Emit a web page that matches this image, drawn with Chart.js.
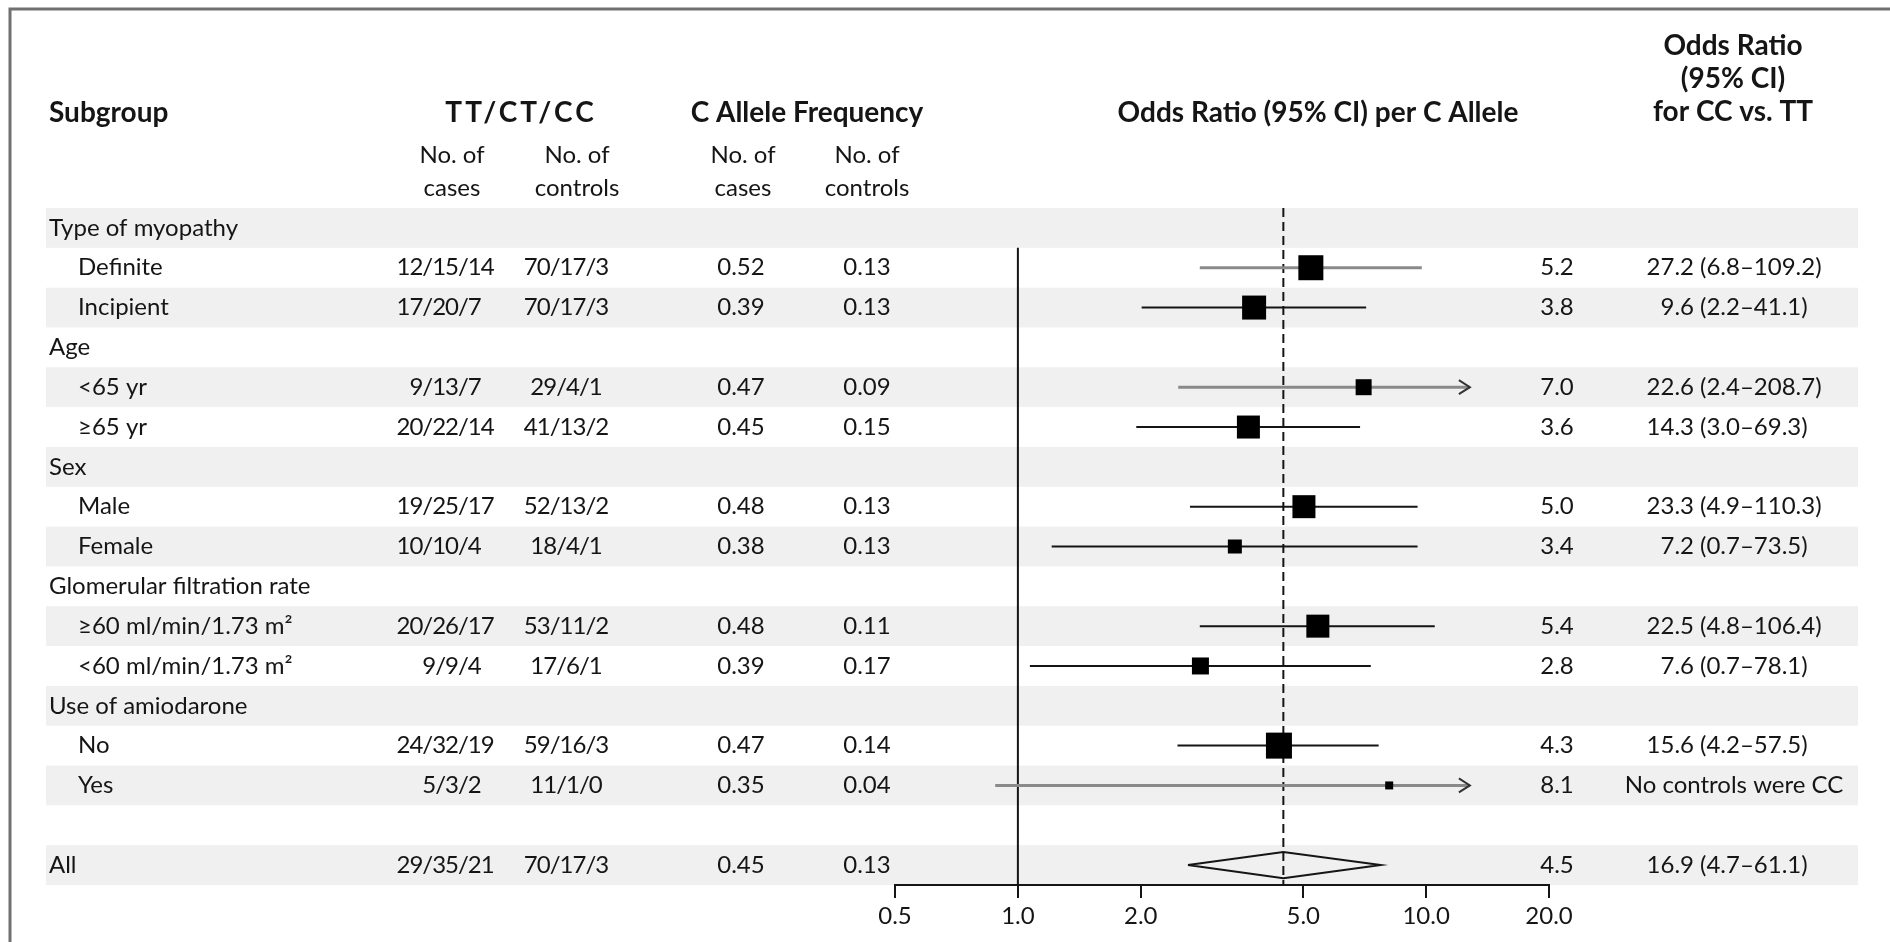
<!DOCTYPE html>
<html>
<head>
<meta charset="utf-8">
<script src="https://cdn.jsdelivr.net/npm/chart.js@4.4.1/dist/chart.umd.min.js"></script>
<style>
  html, body { margin: 0; padding: 0; background: #fff; overflow: hidden; }
</style>
</head>
<body>
<canvas id="forest-chart" width="1890" height="942"></canvas>
<script>
// rows, top to bottom ('' = spacer row)
const subgroups = ['Type of myopathy', 'Definite', 'Incipient', 'Age', '<65 yr', '≥65 yr', 'Sex', 'Male', 'Female',
    'Glomerular filtration rate', '≥60 ml/min/1.73 m²', '<60 ml/min/1.73 m²', 'Use of amiodarone', 'No', 'Yes', '', 'All'];
const isSubitem = [false, true, true, false, true, true, false, true, true, false, true, true, false, true, true, false, false];

const casesTT = ['', '12/15/14', '17/20/7', '', '9/13/7', '20/22/14', '', '19/25/17', '10/10/4', '', '20/26/17', '9/9/4', '', '24/32/19', '5/3/2', '', '29/35/21'];
const controlsTT = ['', '70/17/3', '70/17/3', '', '29/4/1', '41/13/2', '', '52/13/2', '18/4/1', '', '53/11/2', '17/6/1', '', '59/16/3', '11/1/0', '', '70/17/3'];
const freqCases = ['', '0.52', '0.39', '', '0.47', '0.45', '', '0.48', '0.38', '', '0.48', '0.39', '', '0.47', '0.35', '', '0.45'];
const freqControls = ['', '0.13', '0.13', '', '0.09', '0.15', '', '0.13', '0.13', '', '0.11', '0.17', '', '0.14', '0.04', '', '0.13'];
const orText = ['', '5.2', '3.8', '', '7.0', '3.6', '', '5.0', '3.4', '', '5.4', '2.8', '', '4.3', '8.1', '', '4.5'];
const ccText = ['', '27.2 (6.8–109.2)', '9.6 (2.2–41.1)', '', '22.6 (2.4–208.7)', '14.3 (3.0–69.3)', '',
    '23.3 (4.9–110.3)', '7.2 (0.7–73.5)', '', '22.5 (4.8–106.4)', '7.6 (0.7–78.1)', '', '15.6 (4.2–57.5)',
    'No controls were CC', '', '16.9 (4.7–61.1)'];

// odds ratio per C allele, as drawn
const orPoint = [null, 5.22, 3.79, null, 7.03, 3.67, null, 5.02, 3.40, null, 5.43, 2.80, null, 4.36, 8.12, null, 4.47];
const ciLow = [null, 2.79, 2.01, null, 2.47, 1.95, null, 2.64, 1.21, null, 2.79, 1.07, null, 2.46, 0.88, null, 2.61];
const ciHigh = [null, 9.76, 7.13, null, 12.8, 6.89, null, 9.53, 9.53, null, 10.5, 7.32, null, 7.65, 12.8, null, 7.74];
const ciArrow = [false, false, false, false, true, false, false, false, false, false, false, false, false, false, true, false, false];

const xTicks = [0.5, 1, 2, 5, 10, 20];
const allRow = 16;

// marker look (not data)
const boxSide = [0, 25, 24, 0, 16, 23, 0, 23, 14, 0, 23, 17, 0, 26, 8, 0, 0];
const greyLine = [false, true, false, false, true, false, false, false, false, false, false, false, false, false, true, false, false];

const FONT = 'Lato, "Open Sans", sans-serif';
const INK = '#151515';

Chart.defaults.font.family = FONT;

const datasets = [];

// squares
datasets.push({
    data: orPoint.map((v, i) => (v === null || i === allRow) ? null : { x: v, y: i }).filter(p => p),
    pointStyle: 'rect',
    pointRadius: orPoint.map((v, i) => boxSide[i] / Math.SQRT2).filter((r, i) => orPoint[i] !== null && i !== allRow),
    backgroundColor: '#000',
    borderWidth: 0,
    order: 0,
    clip: false
});

// confidence intervals
orPoint.forEach((v, i) => {
    if (v === null || i === allRow) return;
    datasets.push({
        data: [{ x: ciLow[i], y: i }, { x: ciHigh[i], y: i }],
        showLine: true,
        borderColor: greyLine[i] ? '#8a8a8a' : INK,
        borderWidth: greyLine[i] ? 3 : 2,
        pointRadius: 0,
        order: 1,
        clip: false
    });
});

// overall diamond
const dh = 0.33;
datasets.push({
    data: [
        { x: ciLow[allRow], y: allRow },
        { x: orPoint[allRow], y: allRow - dh },
        { x: ciHigh[allRow], y: allRow },
        { x: orPoint[allRow], y: allRow + dh },
        { x: ciLow[allRow], y: allRow }
    ],
    showLine: true,
    borderColor: INK,
    borderWidth: 2,
    pointRadius: 0,
    order: 1,
    clip: false
});

// no-effect line and overall line
datasets.push({
    data: [{ x: 1, y: 0.5 }, { x: 1, y: allRow + 0.5 }],
    showLine: true, borderColor: INK, borderWidth: 2, pointRadius: 0, order: 2, clip: false
});
datasets.push({
    data: [{ x: orPoint[allRow], y: -0.5 }, { x: orPoint[allRow], y: allRow + 0.5 }],
    showLine: true, borderColor: INK, borderWidth: 2, borderDash: [9, 5], pointRadius: 0, order: 2, clip: false
});

function put(ctx, text, x, y, align, bold, spacing) {
    ctx.font = (bold ? 'bold 28px ' : '24px ') + FONT;
    ctx.letterSpacing = spacing || '0px';
    ctx.textAlign = align;
    ctx.fillText(text, x, y);
    ctx.letterSpacing = '0px';
}

// draws head right of anchor, tail from anchor (keeps the slashes lined up)
function putSplit(ctx, text, sep, anchor, y, gap, spacing) {
    const k = text.lastIndexOf(sep);
    if (k < 0) { put(ctx, text, anchor, y, 'center', false, spacing); return; }
    put(ctx, text.slice(0, k), anchor - gap, y, 'right', false, spacing);
    put(ctx, text.slice(k).trim(), anchor, y, 'left', false, spacing);
}

const tablePlugin = {
    id: 'tablePlugin',
    beforeDraw(chart) {
        const { ctx, scales: { y } } = chart;
        ctx.save();
        ctx.fillStyle = '#fff';
        ctx.fillRect(0, 0, chart.width, chart.height);
        ctx.fillStyle = '#f0f0f0';
        subgroups.forEach((s, i) => {
            if (i % 2 !== 0) return;
            const top = y.getPixelForValue(i - 0.5);
            const bottom = y.getPixelForValue(i + 0.5);
            ctx.fillRect(46, top, 1858 - 46, bottom - top);
        });
        ctx.restore();
    },
    afterDatasetsDraw(chart) {
        const { ctx, scales: { x, y } } = chart;
        ctx.save();
        ciArrow.forEach((a, i) => {
            if (!a) return;
            const px = x.getPixelForValue(ciHigh[i]);
            const py = y.getPixelForValue(i);
            ctx.strokeStyle = '#333';
            ctx.lineWidth = 2;
            ctx.beginPath();
            ctx.moveTo(px - 11, py - 7);
            ctx.lineTo(px, py);
            ctx.lineTo(px - 11, py + 7);
            ctx.stroke();
        });
        ctx.restore();
    },
    afterDraw(chart) {
        const { ctx, scales: { y } } = chart;
        ctx.save();
        ctx.fillStyle = INK;
        ctx.textBaseline = 'middle';

        // header
        put(ctx, 'Subgroup', 49, 113, 'left', true);
        put(ctx, 'TT/CT/CC', 521, 113, 'center', true, '3px');
        put(ctx, 'C Allele Frequency', 807, 113, 'center', true);
        put(ctx, 'Odds Ratio (95% CI) per C Allele', 1318, 113, 'center', true);
        put(ctx, 'Odds Ratio', 1733, 46, 'center', true);
        put(ctx, '(95% CI)', 1733, 79, 'center', true);
        put(ctx, 'for CC vs. TT', 1733, 112, 'center', true);
        [452, 577, 743, 867].forEach((cx, k) => {
            put(ctx, 'No. of', cx, 155, 'center');
            put(ctx, k % 2 === 0 ? 'cases' : 'controls', cx, 188, 'center');
        });

        // rows
        subgroups.forEach((s, i) => {
            const py = y.getPixelForValue(i);
            put(ctx, s, isSubitem[i] ? 78 : 49, py, 'left');
            if (casesTT[i]) putSplit(ctx, casesTT[i], '/', 458, py, 0, '-1px');
            if (controlsTT[i]) put(ctx, controlsTT[i], 566, py, 'center', false, '-1px');
            if (freqCases[i]) put(ctx, freqCases[i], 741, py, 'center');
            if (freqControls[i]) put(ctx, freqControls[i], 867, py, 'center');
            if (orText[i]) put(ctx, orText[i], 1557, py, 'center');
            if (ccText[i]) {
                if (ccText[i].indexOf('(') > 0) putSplit(ctx, ccText[i], ' (', 1700, py, 6);
                else put(ctx, ccText[i], 1734, py, 'center');
            }
        });

        // frame
        ctx.strokeStyle = '#707070';
        ctx.lineWidth = 3;
        ctx.beginPath();
        ctx.moveTo(10, chart.height);
        ctx.lineTo(10, 9);
        ctx.lineTo(chart.width, 9);
        ctx.stroke();
        ctx.restore();
    }
};

const config = {
    type: 'scatter',
    data: { datasets: datasets },
    options: {
        responsive: false,
        animation: false,
        layout: { padding: { left: 895, right: 341, top: 208, bottom: 0 } },
        plugins: {
            legend: { display: false },
            tooltip: { enabled: false }
        },
        scales: {
            x: {
                type: 'logarithmic',
                min: 0.5,
                max: 20,
                afterBuildTicks: (axis) => { axis.ticks = xTicks.map(v => ({ value: v })); },
                afterFit: (axis) => { axis.height = 57; },
                grid: { drawOnChartArea: false, drawTicks: true, tickLength: 13, color: INK, lineWidth: 2 },
                border: { display: true, color: INK, width: 2 },
                ticks: {
                    autoSkip: false,
                    maxRotation: 0,
                    padding: 4,
                    color: INK,
                    font: { size: 24, family: FONT },
                    callback: (v) => Number(v).toFixed(1)
                }
            },
            y: {
                type: 'linear',
                reverse: true,
                min: -0.5,
                max: allRow + 0.5,
                display: false
            }
        }
    },
    plugins: [tablePlugin]
};

const forestChart = new Chart(document.getElementById('forest-chart'), config);
</script>
</body>
</html>
